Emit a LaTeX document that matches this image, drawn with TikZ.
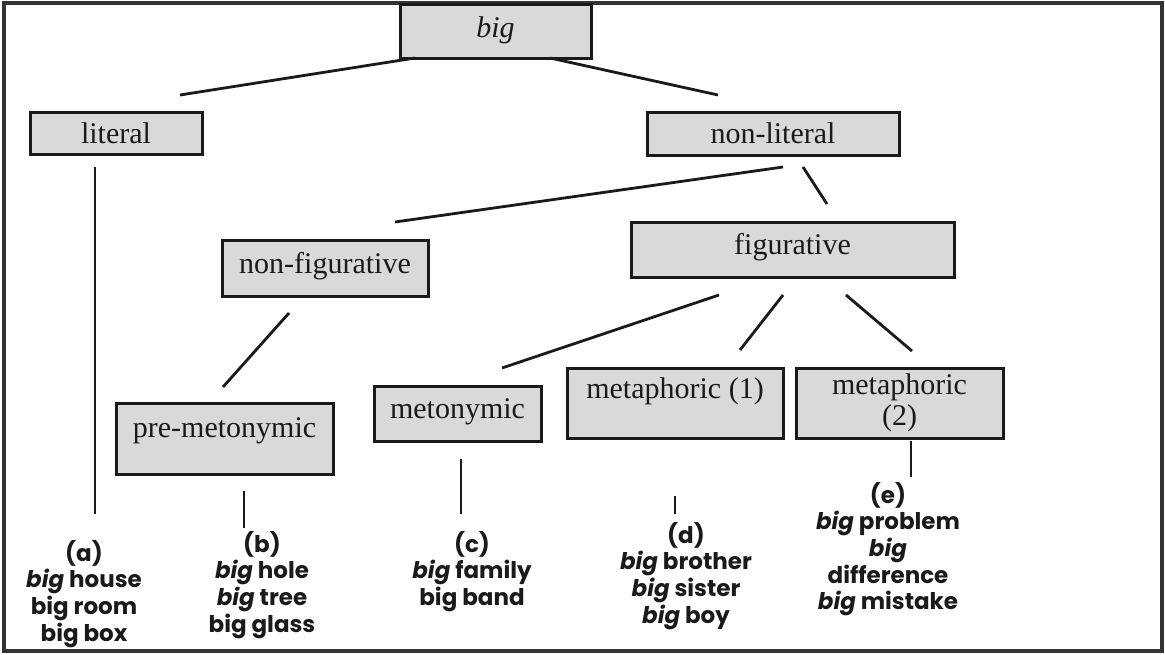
\documentclass[tikz,border=0pt]{standalone}
\usepackage{fontspec}
\setmainfont{Liberation Serif}
\newfontfamily\gothic{Poppins}
\definecolor{boxgray}{HTML}{D9D9D9}
\definecolor{ink}{HTML}{1A1A1A}
\tikzset{
  box/.style={draw=ink, fill=boxgray, line width=3pt, inner sep=0pt, anchor=base,
    text=ink, font=\fontsize{30}{31}\selectfont},
  conn/.style={line width=2.8pt, draw=ink},
  ex/.style={anchor=base, inner sep=0pt, text=ink,
    font=\gothic\bfseries\fontsize{23}{26.7}\selectfont},
  frame/.style={line width=3.2pt, draw=black!80}
}
\begin{document}
\begin{tikzpicture}[x=1pt,y=-1pt]
\useasboundingbox (0,0) rectangle (1165,654);
\draw[frame] (4,3) rectangle (1162,651);

% boxes
\node[box, minimum width=191pt, text height=33pt, text depth=21pt] (big) at (495.5,37) {\textit{big}};
\node[box, minimum width=172pt, text height=31pt, text depth=11pt] (literal) at (116,143) {literal};
\node[box, minimum width=252pt, text height=31pt, text depth=12pt] (nonlit) at (773,143) {non-literal};
\node[box, minimum width=206pt, text height=33pt, text depth=23pt] (nonfig) at (325,273) {non-figurative};
\node[box, minimum width=323pt, text height=32pt, text depth=23pt] (fig) at (792.5,254) {figurative};
\node[box, minimum width=217pt, text height=34pt, text depth=37pt] (premet) at (224.5,437) {pre-metonymic};
\node[box, minimum width=167pt, text height=32pt, text depth=23pt] (meton) at (457.5,418) {metonymic};
\node[box, minimum width=216pt, text height=30pt, text depth=40pt] (meta1) at (675,398) {metaphoric (1)};
\node[box, minimum width=207pt, minimum height=70pt, anchor=center, align=center] (meta2) at (899.5,403) {metaphoric\\(2)};

% connector end points
\coordinate (c1a) at (415,58);  \coordinate (c1b) at (180,95);
\coordinate (c2a) at (550,58);  \coordinate (c2b) at (718,95);
\coordinate (c3a) at (95,167);  \coordinate (c3b) at (95,514);
\coordinate (c4a) at (783,167); \coordinate (c4b) at (395,222);
\coordinate (c5a) at (803,167); \coordinate (c5b) at (827,204);
\coordinate (c6a) at (289,313); \coordinate (c6b) at (223,387);
\coordinate (c7a) at (244,491); \coordinate (c7b) at (244,528);
\coordinate (c8a) at (719,295); \coordinate (c8b) at (502,368);
\coordinate (c9a) at (783,295); \coordinate (c9b) at (740,350);
\coordinate (c10a) at (846,295); \coordinate (c10b) at (912,351);
\coordinate (c11a) at (461,459); \coordinate (c11b) at (461,514);
\coordinate (c12a) at (675,496); \coordinate (c12b) at (675,514);
\coordinate (c13a) at (911,441); \coordinate (c13b) at (911,477);

\foreach \i in {1,...,13} { \draw[conn] (c\i a) -- (c\i b); }

% examples
\node[ex] (exa) at (84,561) {\begin{tabular}[t]{@{}c@{}}(a)\\\textit{big} house\\big room\\big box\end{tabular}};
\node[ex] (exb) at (262,552) {\begin{tabular}[t]{@{}c@{}}(b)\\\textit{big} hole\\\textit{big} tree\\big glass\end{tabular}};
\node[ex] (exc) at (472,552) {\begin{tabular}[t]{@{}c@{}}(c)\\\textit{big} family\\big band\end{tabular}};
\node[ex] (exd) at (686,543) {\begin{tabular}[t]{@{}c@{}}(d)\\\textit{big} brother\\\textit{big} sister\\\textit{big} boy\end{tabular}};
\node[ex] (exe) at (888,503) {\begin{tabular}[t]{@{}c@{}}(e)\\\textit{big} problem\\\textit{big}\\difference\\\textit{big} mistake\end{tabular}};
\end{tikzpicture}
\end{document}
